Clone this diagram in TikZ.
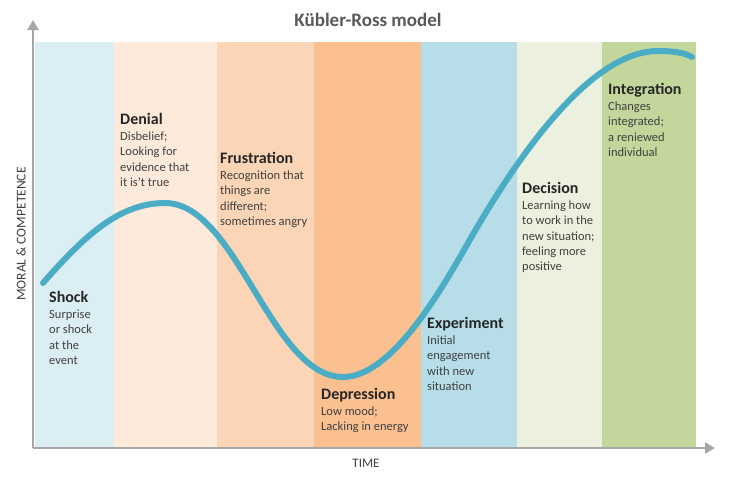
\documentclass[tikz,border=0pt]{standalone}
\usepackage{fontspec}
\setmainfont{Carlito}
\usetikzlibrary{arrows.meta,positioning}
\definecolor{shockc}{HTML}{DBEEF4}
\definecolor{denialc}{HTML}{FDEADA}
\definecolor{frustc}{HTML}{FBD5B5}
\definecolor{deprc}{HTML}{FAC090}
\definecolor{exprc}{HTML}{B7DDE8}
\definecolor{decic}{HTML}{EBF1DE}
\definecolor{integc}{HTML}{C3D69B}
\definecolor{axisgray}{HTML}{A6A6A6}
\definecolor{curvec}{HTML}{4BACC6}
\definecolor{headgray}{HTML}{262626}
\definecolor{bodygray}{HTML}{404040}
\definecolor{titlegray}{HTML}{595959}
\newcommand{\hd}[1]{{\fontsize{16}{19}\selectfont\bfseries\color{headgray}\strut #1}}

\begin{document}
\begin{tikzpicture}[x=1pt,y=-1pt,
  stage/.style={anchor=north west, inner sep=0pt, align=left,
                font=\fontsize{12.5}{15.2}\selectfont, text=bodygray},
  axislabel/.style={inner sep=0pt, font=\fontsize{13.5}{16}\selectfont, text=bodygray},
  axisline/.style={draw=axisgray, line width=2.5pt,
                   -{Triangle[width=11pt,length=10pt]}}]
  \useasboundingbox (0,0) rectangle (735,477);
  \fill[shockc ] ( 35,42) rectangle (114,447);
  \fill[denialc] (114,42) rectangle (217,447);
  \fill[frustc ] (217,42) rectangle (314,447);
  \fill[deprc  ] (314,42) rectangle (421,447);
  \fill[exprc  ] (421,42) rectangle (517,447);
  \fill[decic  ] (517,42) rectangle (602,447);
  \fill[integc ] (602,42) rectangle (696,447);
  \coordinate (origin) at ( 33,448);
  \coordinate (ytip)   at ( 33, 20);
  \coordinate (xtip)   at (715,448);
  \draw[axisline] (origin) -- (ytip);
  \draw[axisline] (origin) -- (xtip);
  \draw[curvec, line width=6pt, line cap=round]
    (43,283) .. controls (85,235) and (120,203) .. (165,203)
             .. controls (237,203) and (271,377) .. (343,377)
             .. controls (390,377) and (438,296) .. (468,243)
             .. controls (513,164) and (588,51) .. (658,51)
             .. controls (675,51) and (685,53) .. (692,57);
  \node[font=\fontsize{19}{22}\selectfont\bfseries, text=titlegray] (title) at (368,20) {Kübler-Ross model};
  \node[axislabel, rotate=90] (ylabel) at (21,234) {MORAL \& COMPETENCE};
  \node[axislabel, font=\fontsize{13}{15}\selectfont] (xlabel) at (366,463) {TIME};
  \node[stage] (shock)  at (49,289)  {\hd{Shock}\\[1pt] Surprise\\ or shock\\ at the\\ event};
  \node[stage] (denial) at (120,111) {\hd{Denial}\\[1pt] Disbelief;\\ Looking for\\ evidence that\\ it is’t true};
  \node[stage] (frust)  at (220,150) {\hd{Frustration}\\[1pt] Recognition that\\ things are\\ different;\\ sometimes angry};
  \node[stage] (depr)   at (321,386) {\hd{Depression}\\[1pt] Low mood;\\ Lacking in energy};
  \node[stage] (expr)   at (427,315) {\hd{Experiment}\\[1pt] Initial\\ engagement\\ with new\\ situation};
  \node[stage] (deci)   at (522,180) {\hd{Decision}\\[1pt] Learning how\\ to work in the\\ new situation;\\ feeling more\\ positive};
  \node[stage] (integ)  at (608,81)  {\hd{Integration}\\[1pt] Changes\\ integrated;\\ a reniewed\\ individual};
\end{tikzpicture}
\end{document}
